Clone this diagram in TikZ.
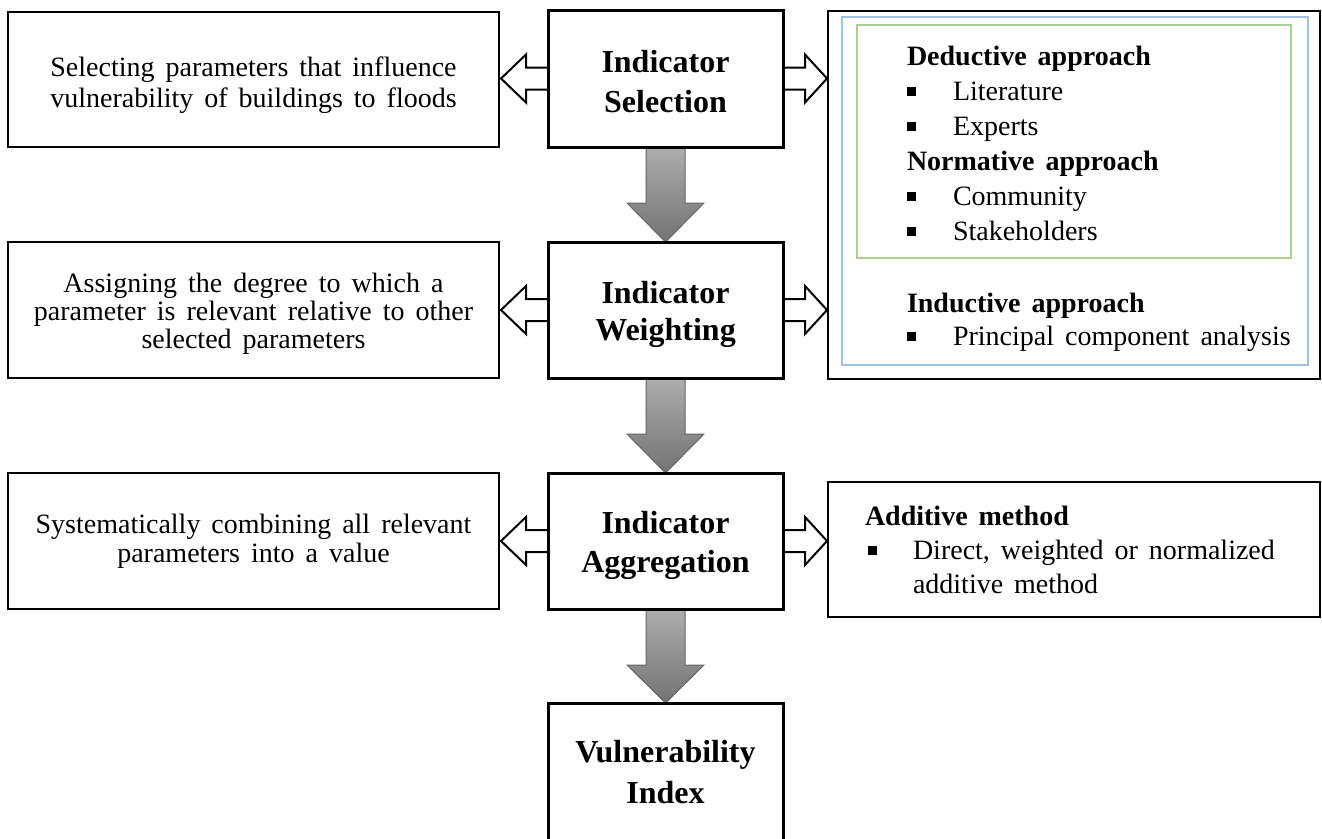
\documentclass[tikz,border=0pt]{standalone}
\usepackage{fontspec}
\setmainfont{Liberation Serif}
\usetikzlibrary{calc}
\pgfdeclarelayer{background}
\pgfsetlayers{background,main}
\definecolor{bluebox}{HTML}{9DC3E6}
\definecolor{greenbox}{HTML}{A9D18E}
\newcommand{\sqbul}{\makebox[46pt][l]{\raisebox{4.5pt}{\rule{8.5pt}{8.5pt}}}}
\newcommand{\ctab}[1]{\begin{tabular}[t]{@{}c@{}}#1\end{tabular}}
\newcommand{\widesp}{\spaceskip 11pt plus 2pt\relax}
\begin{document}
\begin{tikzpicture}[x=1pt,y=-1pt,
  every node/.style={outer sep=0pt, inner sep=0pt},
  cbox/.style={draw, line width=3pt, fill=white, minimum width=235pt},
  lbox/.style={draw, line width=1.8pt, fill=white, minimum width=491pt},
  rbox/.style={draw, line width=1.8pt, fill=white, minimum width=492pt},
  ctext/.style={anchor=base, font=\fontsize{32}{#1}\selectfont\bfseries},
  ltext/.style={anchor=base, font=\fontsize{28}{#1}\selectfont\widesp},
  hollow/.style={draw, line width=2pt, fill=white, line join=miter},
  grayarrow/.style={draw=black!60, line width=1pt, top color=black!32, bottom color=black!55},
  txt/.style={anchor=base west, font=\fontsize{28}{35}\selectfont\widesp}
]
\useasboundingbox (0,0) rectangle (1322,838);

% centre column
\node[cbox, minimum height=137pt] (sel) at (665.5,78.5) {};
\node[cbox, minimum height=136pt] (wei) at (665.5,310) {};
\node[cbox, minimum height=136pt] (agg) at (665.5,541) {};
\node[cbox, minimum height=150pt] (vul) at (665.5,778) {};
\node[ctext=40] (seltxt) at (665.5,72) {\ctab{Indicator\\Selection}};
\node[ctext=37] (weitxt) at (665.5,303) {\ctab{Indicator\\Weighting}};
\node[ctext=39] (aggtxt) at (665.5,533) {\ctab{Indicator\\Aggregation}};
\node[ctext=41] (vultxt) at (665.5,762) {\ctab{Vulnerability\\Index}};

% left column
\node[lbox, minimum height=135pt] (lsel) at (253.5,79.5) {};
\node[lbox, minimum height=136pt] (lwei) at (253.5,310) {};
\node[lbox, minimum height=136pt] (lagg) at (253.5,541) {};
\node[ltext=31] (lseltxt) at (253.5,76) {\ctab{Selecting parameters that influence\\vulnerability of buildings to floods}};
\node[ltext=28] (lweitxt) at (253.5,292) {\ctab{Assigning the degree to which a\\parameter is relevant relative to other\\selected parameters}};
\node[ltext=29] (laggtxt) at (253.5,533) {\ctab{Systematically combining all relevant\\parameters into a value}};

% right column
\node[rbox, minimum height=368pt] (rsel) at (1074,195) {};
\node[draw=bluebox, line width=2pt, minimum width=466pt, minimum height=348pt] (blue) at (1075,191) {};
\node[draw=greenbox, line width=2.5pt, minimum width=434pt, minimum height=233pt] (green) at (1074,141.5) {};
\node[txt] (ded) at (907,65) {\parbox[t]{390pt}{{\bfseries Deductive approach}\\
  \sqbul Literature\\
  \sqbul Experts\\
  {\bfseries Normative approach}\\
  \sqbul Community\\
  \sqbul Stakeholders}};
\node[txt] (ind) at (907,312) {\parbox[t]{400pt}{\fontsize{28}{33}\selectfont\widesp{\bfseries Inductive approach}\\
  \sqbul Principal component analysis}};

\node[rbox, minimum height=135pt] (ragg) at (1074,549.5) {};
\node[txt] (add) at (865,525) {\parbox[t]{440pt}{\fontsize{28}{34}\selectfont\widesp{\bfseries Additive method}\\
  \makebox[48pt][l]{\hspace*{3pt}\raisebox{4.5pt}{\rule{8.5pt}{8.5pt}}}Direct, weighted or normalized\\
  \hspace*{48pt}additive method}};

\begin{pgfonlayer}{background}
% hollow side arrows
\foreach \c/\l/\r in {sel/lsel/rsel, wei/lwei/rsel, agg/lagg/ragg}{
  \draw[hollow] ($(\c.west)+(0,-11)$) -- ++(-22,0) -- ++(0,-13)
     -- ($(\l.east |- \c.west)+(2,0)$) -- ($(\c.west)+(-22,24)$) -- ++(0,-13)
     -- ($(\c.west)+(0,11)$);
  \draw[hollow] ($(\c.east)+(0,-11)$) -- ++(22,0) -- ++(0,-13)
     -- ($(\r.west |- \c.east)+(-1,0)$) -- ($(\c.east)+(22,24)$) -- ++(0,-13)
     -- ($(\c.east)+(0,11)$);
}
% gray down arrows
\foreach \a/\b in {sel/wei, wei/agg, agg/vul}{
  \draw[grayarrow] ($(\a.south)+(-19.5,0)$) -- ($(\a.south)+(-19.5,56)$)
     -- ($(\a.south)+(-38.5,56)$) -- (\b.north) -- ($(\a.south)+(38.5,56)$)
     -- ($(\a.south)+(19.5,56)$) -- ($(\a.south)+(19.5,0)$) -- cycle;
}
\end{pgfonlayer}
\end{tikzpicture}
\end{document}
